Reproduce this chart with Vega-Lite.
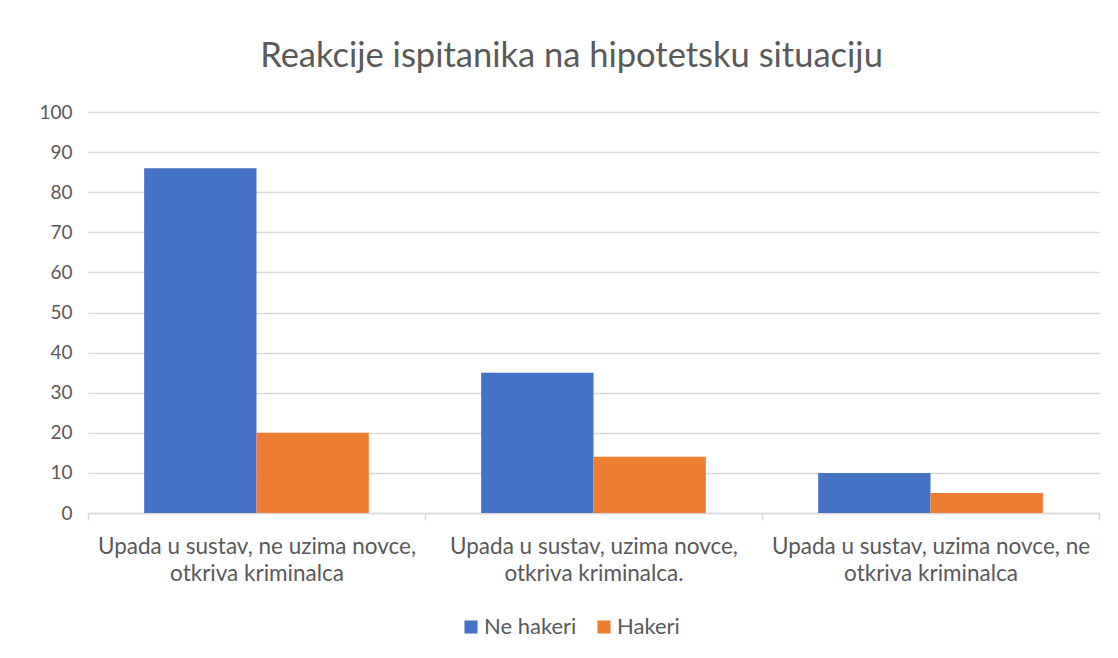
{
  "$schema": "https://vega.github.io/schema/vega-lite/v6.json",
  "width": 1011,
  "height": 401,
  "autosize": {"type": "none"},
  "padding": {"left": 88, "top": 112, "right": 19, "bottom": 145},
  "background": "white",
  "title": {
    "text": "Reakcije ispitanika na hipotetsku situaciju",
    "font": "Lato",
    "fontSize": 34.5,
    "fontWeight": "normal",
    "color": "#595959",
    "anchor": "middle",
    "offset": 29,
    "dx": -22
  },
  "data": {
    "values": [
      {"kategorija": "Upada u sustav, ne uzima novce,|otkriva kriminalca", "skupina": "Ne hakeri", "vrijednost": 86},
      {"kategorija": "Upada u sustav, ne uzima novce,|otkriva kriminalca", "skupina": "Hakeri", "vrijednost": 20},
      {"kategorija": "Upada u sustav, uzima novce,|otkriva kriminalca.", "skupina": "Ne hakeri", "vrijednost": 35},
      {"kategorija": "Upada u sustav, uzima novce,|otkriva kriminalca.", "skupina": "Hakeri", "vrijednost": 14},
      {"kategorija": "Upada u sustav, uzima novce, ne|otkriva kriminalca", "skupina": "Ne hakeri", "vrijednost": 10},
      {"kategorija": "Upada u sustav, uzima novce, ne|otkriva kriminalca", "skupina": "Hakeri", "vrijednost": 5}
    ]
  },
  "mark": {"type": "bar"},
  "encoding": {
    "x": {
      "field": "kategorija",
      "type": "nominal",
      "sort": null,
      "scale": {"paddingInner": 0, "paddingOuter": 0},
      "axis": {
        "title": null,
        "labelAngle": 0,
        "labelExpr": "split(datum.label, '|')",
        "labelFont": "Lato",
        "labelFontSize": 22.5,
        "labelColor": "#595959",
        "labelLineHeight": 27,
        "labelPadding": 15,
        "labelBaseline": "top",
        "labelLimit": 0,
        "domainColor": "#D9D9D9",
        "domainWidth": 1.5,
        "tickColor": "#D9D9D9",
        "tickWidth": 1.5,
        "tickSize": 7,
        "tickBand": "extent",
        "grid": false
      }
    },
    "xOffset": {"field": "skupina", "type": "nominal", "sort": ["Ne hakeri", "Hakeri"], "scale": {"paddingInner": 0, "paddingOuter": 0.5}},
    "y": {
      "field": "vrijednost",
      "type": "quantitative",
      "scale": {"domain": [0, 100]},
      "axis": {
        "title": null,
        "values": [0, 10, 20, 30, 40, 50, 60, 70, 80, 90, 100],
        "labelFont": "Lato",
        "labelFontSize": 19,
        "labelColor": "#595959",
        "labelPadding": 16,
        "domain": false,
        "ticks": false,
        "gridColor": "#D9D9D9",
        "gridWidth": 1.5
      }
    },
    "color": {
      "field": "skupina",
      "type": "nominal",
      "sort": ["Ne hakeri", "Hakeri"],
      "scale": {"domain": ["Ne hakeri", "Hakeri"], "range": ["#4472C4", "#ED7D31"]},
      "legend": {
        "title": null,
        "orient": "none",
        "direction": "horizontal",
        "legendX": 372,
        "legendY": 504,
        "symbolType": "square",
        "symbolSize": 170,
        "symbolStrokeWidth": 0,
        "labelFont": "Lato",
        "labelFontSize": 22,
        "labelColor": "#595959",
        "columnPadding": 16,
        "labelOffset": 2
      }
    }
  },
  "config": {"view": {"stroke": null}}
}
